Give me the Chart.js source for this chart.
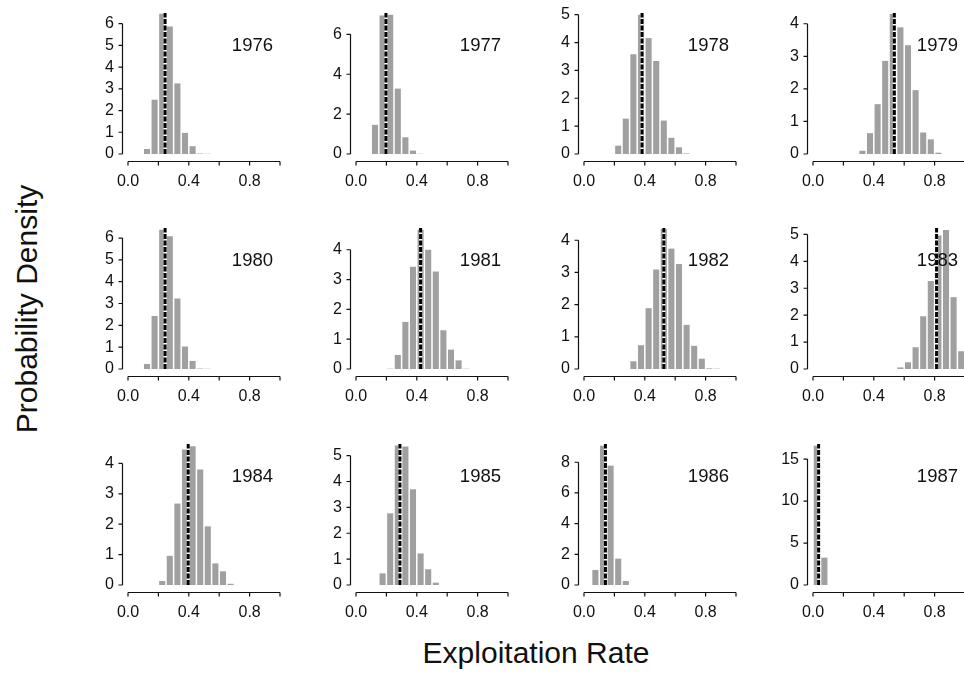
<!DOCTYPE html>
<html>
<head>
<meta charset="utf-8">
<script src="https://cdn.jsdelivr.net/npm/chart.js@4.4.0/dist/chart.umd.min.js"></script>
<style>
    body { margin: 0; width: 964px; height: 677px; overflow: hidden; background: #fff; position: relative;
           font-family: "Liberation Sans", Arial, sans-serif; color: #111; }
    .panel { position: absolute; width: 226px; height: 196px; }
    .ytitle { position: absolute; left: 27px; top: 309px; transform: translate(-50%, -50%) rotate(-90deg);
              font-size: 30px; white-space: nowrap; }
    .xtitle { position: absolute; left: 536px; top: 653px; transform: translate(-50%, -50%);
              font-size: 30px; white-space: nowrap; }
</style>
</head>
<body>
<div class="ytitle">Probability Density</div>
<div class="xtitle">Exploitation Rate</div>
<script>
// histogram bins: 20 bins of width 0.05 on [0, 1]
const binCenters = Array.from({ length: 20 }, (_, i) => +(0.025 + i * 0.05).toFixed(3));

const years = [1976, 1977, 1978, 1979, 1980, 1981, 1982, 1983, 1984, 1985, 1986, 1987];

// posterior densities per bin
const dens1976 = [0, 0, 0.23, 2.50, 6.45, 5.87, 3.25, 0.97, 0.36, 0.02, 0.01, 0, 0, 0, 0, 0, 0, 0, 0, 0];
const dens1977 = [0, 0, 1.46, 6.95, 6.98, 3.28, 0.84, 0.17, 0.01, 0, 0, 0, 0, 0, 0, 0, 0, 0, 0, 0];
const dens1978 = [0, 0, 0, 0, 0.30, 1.27, 3.58, 5.00, 4.16, 3.34, 1.20, 0.58, 0.24, 0.02, 0, 0, 0, 0, 0, 0];
const dens1979 = [0, 0, 0, 0, 0, 0, 0.10, 0.64, 1.53, 2.86, 4.30, 3.89, 3.34, 1.96, 0.66, 0.45, 0.04, 0, 0, 0];
const dens1980 = [0, 0, 0.23, 2.43, 6.38, 6.08, 3.23, 1.03, 0.37, 0.02, 0.01, 0, 0, 0, 0, 0, 0, 0, 0, 0];
const dens1981 = [0, 0, 0, 0, 0.01, 0.47, 1.58, 3.43, 4.67, 4.00, 3.27, 1.30, 0.65, 0.29, 0.01, 0, 0, 0, 0, 0];
const dens1982 = [0, 0, 0, 0, 0, 0, 0.24, 0.74, 1.89, 3.09, 4.35, 3.74, 3.26, 1.37, 0.72, 0.32, 0.02, 0.01, 0, 0];
const dens1983 = [0, 0, 0, 0, 0, 0, 0, 0, 0, 0, 0, 0.06, 0.25, 0.81, 1.96, 3.27, 4.96, 5.17, 2.67, 0.66];
const dens1984 = [0, 0, 0, 0, 0.13, 0.96, 2.68, 4.46, 4.57, 3.80, 1.93, 0.71, 0.45, 0.04, 0, 0, 0, 0, 0, 0];
const dens1985 = [0, 0, 0, 0.45, 2.77, 5.39, 5.35, 3.70, 1.22, 0.61, 0.09, 0, 0, 0, 0, 0, 0, 0, 0, 0];
const dens1986 = [0, 0.98, 9.08, 7.78, 1.72, 0.26, 0, 0, 0, 0, 0, 0, 0, 0, 0, 0, 0, 0, 0, 0];
const dens1987 = [16.6, 3.26, 0, 0, 0, 0, 0, 0, 0, 0, 0, 0, 0, 0, 0, 0, 0, 0, 0, 0];
const densities = [dens1976, dens1977, dens1978, dens1979, dens1980, dens1981,
                   dens1982, dens1983, dens1984, dens1985, dens1986, dens1987];

// point estimate (dashed line) per year
const estimates = [0.244, 0.197, 0.382, 0.535, 0.244, 0.425, 0.525, 0.813, 0.396, 0.289, 0.141, 0.037];

// y range and tick step per panel
const yMax = [6.49, 7.07, 5.06, 4.33, 6.46, 4.73, 4.38, 5.24, 4.64, 5.45, 9.19, 16.8];
const yStep = [1, 2, 1, 1, 1, 1, 1, 1, 1, 1, 2, 5];
const xTickLabels = ['0.0', '0.4', '0.8'];

const colLeft = [68, 296, 524, 753];
const rowTop = [3, 218, 434];
const FONT = '"Liberation Sans", Arial, sans-serif';
const INK = '#111';
const BAR_INDEX = 2;

// detached axes: y axis stops at its top tick, x axis sits a little below zero;
// the year goes on after the bars but under the dashed estimate line
const offsetAxes = {
    id: 'offsetAxes',
    afterDatasetDraw(chart, args, opts) {
        if (args.index !== BAR_INDEX) return;
        const { ctx, chartArea } = chart;
        ctx.save();
        ctx.fillStyle = INK;
        ctx.font = '18.5px ' + FONT;
        ctx.textAlign = 'right';
        ctx.textBaseline = 'middle';
        ctx.fillText(String(opts.year), chartArea.left + 145, chartArea.top + 33);
        ctx.restore();
    },
    afterDatasetsDraw(chart) {
        const { ctx, chartArea, scales: { x, y } } = chart;
        ctx.save();
        ctx.strokeStyle = INK;
        ctx.lineWidth = 1.2;

        const ax = chartArea.bottom + 7.5;
        ctx.beginPath();
        ctx.moveTo(x.getPixelForValue(0), ax);
        ctx.lineTo(x.getPixelForValue(1), ax);
        x.ticks.forEach(t => {
            const px = x.getPixelForValue(t.value);
            ctx.moveTo(px, ax);
            ctx.lineTo(px, ax + 4);
        });
        ctx.stroke();

        const ay = chartArea.left - 5.5;
        const last = y.ticks[y.ticks.length - 1].value;
        ctx.beginPath();
        ctx.moveTo(ay, y.getPixelForValue(0));
        ctx.lineTo(ay, y.getPixelForValue(last));
        y.ticks.forEach(t => {
            const py = y.getPixelForValue(t.value);
            ctx.moveTo(ay, py);
            ctx.lineTo(ay - 4, py);
        });
        ctx.stroke();
        ctx.restore();
    }
};

years.forEach((year, i) => {
    const wrap = document.createElement('div');
    wrap.className = 'panel';
    wrap.style.left = colLeft[i % 4] + 'px';
    wrap.style.top = rowTop[Math.floor(i / 4)] + 'px';
    const canvas = document.createElement('canvas');
    canvas.width = 226;
    canvas.height = 196;
    wrap.appendChild(canvas);
    document.body.appendChild(wrap);

    const est = estimates[i];
    const top = yMax[i];
    const step = yStep[i];
    const estLine = [{ x: est, y: 0 }, { x: est, y: top }];

    new Chart(canvas, {
        type: 'bar',
        data: {
            datasets: [
                { type: 'line', data: estLine, borderColor: '#000', borderWidth: 3,
                  borderDash: [5, 1.5], pointRadius: 0, order: 0 },
                { type: 'line', data: estLine, borderColor: '#fff', borderWidth: 3,
                  pointRadius: 0, order: 1 },
                { type: 'bar', data: binCenters.map((x, k) => ({ x, y: densities[i][k] })),
                  backgroundColor: '#a0a0a0', borderWidth: 0,
                  categoryPercentage: 1, barPercentage: 0.8, order: 2 }
            ]
        },
        options: {
            responsive: false,
            animation: false,
            devicePixelRatio: 1,
            layout: { padding: { top: 10, right: 14, left: 0, bottom: 0 } },
            plugins: { legend: { display: false }, tooltip: { enabled: false }, offsetAxes: { year } },
            scales: {
                x: {
                    type: 'linear', min: 0, max: 1, offset: false,
                    grid: { display: false, drawTicks: false },
                    border: { display: false },
                    afterFit: s => { s.height = 45; s.paddingLeft = 0; s.paddingRight = 0; },
                    ticks: {
                        stepSize: 0.2, autoSkip: false, maxRotation: 0, padding: 18,
                        color: INK, font: { family: FONT, size: 16 },
                        callback: v => {
                            const lbl = Number(v).toFixed(1);
                            return xTickLabels.includes(lbl) ? lbl : '';
                        }
                    }
                },
                y: {
                    min: 0, max: top,
                    grid: { display: false, drawTicks: false },
                    border: { display: false },
                    afterFit: s => { s.width = 60; s.paddingTop = 0; s.paddingBottom = 0; },
                    afterBuildTicks: s => {
                        s.ticks = s.ticks.filter(t => Math.abs(t.value / step - Math.round(t.value / step)) < 1e-6);
                    },
                    ticks: {
                        stepSize: step, includeBounds: false, padding: 14,
                        color: INK, font: { family: FONT, size: 16 }
                    }
                }
            }
        },
        plugins: [offsetAxes]
    });
});
</script>
</body>
</html>
